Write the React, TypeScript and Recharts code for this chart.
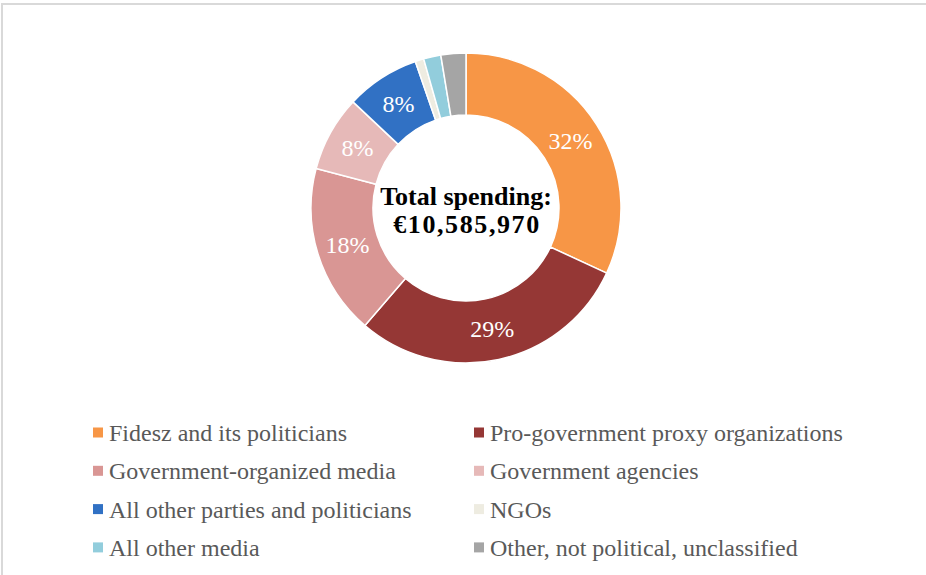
import React from 'react'
import { PieChart, Pie, Cell, Legend } from 'recharts'

const categories = [
  'Fidesz and its politicians',
  'Pro-government proxy organizations',
  'Government-organized media',
  'Government agencies',
  'All other parties and politicians',
  'NGOs',
  'All other media',
  'Other, not political, unclassified',
]
const shares = [31.9, 29.4, 17.8, 7.9, 7.7, 0.9, 1.8, 2.6]
const colors = ['#F79646', '#953735', '#D99694', '#E6B9B8', '#3171C4', '#EEECE1', '#92CDDC', '#A5A5A5']
const totalLabel = ['Total spending:', '€10,585,970']

const data = categories.map((name, i) => ({ name, value: shares[i] }))

const FONT = '"Liberation Serif", "Times New Roman", serif'
const RADIAN = Math.PI / 180
const CX = 466
const CY = 208

const renderPct = (p: any) => {
  if (p.percent < 0.05) return null
  const r = (p.innerRadius + p.outerRadius) / 2
  const x = p.cx + r * Math.cos(-p.midAngle * RADIAN)
  const y = p.cy + r * Math.sin(-p.midAngle * RADIAN)
  return (
    <text x={x} y={y} fill="#fff" fontFamily={FONT} fontSize={24}
      textAnchor="middle" dominantBaseline="central">
      {Math.round(p.percent * 100)}%
    </text>
  )
}

// legend in two columns, row by row, plus the total in the hole
const renderLegend = () => (
  <svg width={926} height={575} style={{ position: 'absolute', left: 0, top: 0 }}>
    <text textAnchor="middle" fontFamily={FONT} fontWeight="bold" fontSize={26} fill="#000">
      <tspan x={CX} y={CY - 3}>{totalLabel[0]}</tspan>
    </text>
    <text textAnchor="middle" fontFamily={FONT} fontWeight="bold" fontSize={26} fill="#000" letterSpacing={1.6}>
      <tspan x={CX + 1} y={CY + 25}>{totalLabel[1]}</tspan>
    </text>
    {categories.map((name, i) => {
      const col = i % 2
      const row = Math.floor(i / 2)
      const x = col === 0 ? 93 : 474
      const base = 441 + row * 38.3
      return (
        <g key={name}>
          <rect x={x} y={base - 13.5} width={10} height={10} fill={colors[i]} />
          <text x={x + 16} y={base} fontFamily={FONT} fontSize={24} fill="#595959">{name}</text>
        </g>
      )
    })}
  </svg>
)

export default function App() {
  return (
    <div style={{ position: 'fixed', left: 0, top: 0, width: 926, height: 575, background: '#fff', overflow: 'hidden' }}>
      <div style={{
        position: 'absolute', left: 1, top: 3, width: 1200, height: 900,
        borderLeft: '2px solid #d9d9d9', borderTop: '2px solid #d9d9d9',
      }} />
      <div style={{ position: 'absolute', left: 0, top: 0 }}>
        <PieChart width={926} height={575} margin={{ top: 0, right: 0, bottom: 0, left: 0 }}>
          <Pie
            data={data}
            dataKey="value"
            nameKey="name"
            cx={CX}
            cy={CY}
            innerRadius={93}
            outerRadius={155}
            startAngle={90}
            endAngle={-270}
            stroke="#fff"
            strokeWidth={1.5}
            label={renderPct}
            labelLine={false}
            isAnimationActive={false}
          >
            {data.map((d, i) => <Cell key={d.name} fill={colors[i]} />)}
          </Pie>
          <Legend content={renderLegend} wrapperStyle={{ position: 'absolute', left: 0, top: 0, width: 926, height: 575 }} />
        </PieChart>
      </div>
    </div>
  )
}
